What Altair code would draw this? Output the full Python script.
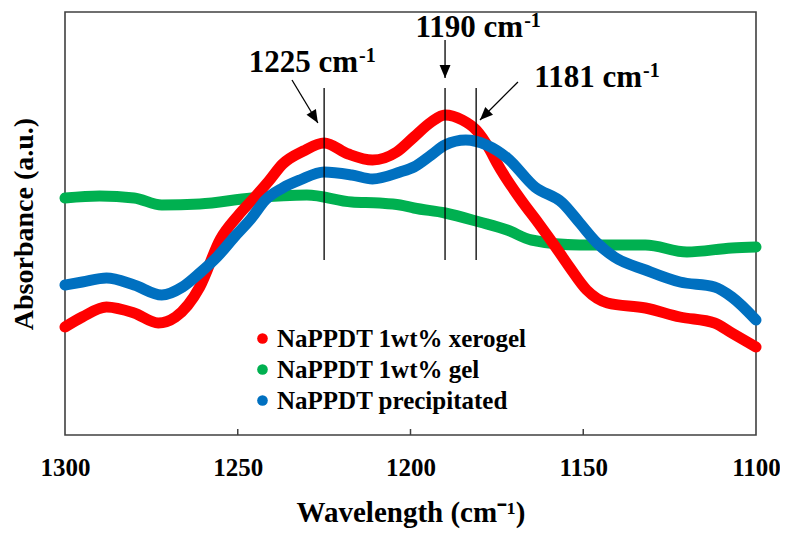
import altair as alt
import pandas as pd

# ---------------- data ----------------
series_names = ["NaPPDT 1wt% xerogel", "NaPPDT 1wt% gel", "NaPPDT precipitated"]
series_colors = ["#FF0000", "#00B050", "#0070C0"]

w_xerogel = [1300, 1295, 1288, 1280, 1273, 1268, 1261, 1255, 1250, 1245, 1241, 1237, 1231,
             1225, 1218, 1211, 1204, 1199, 1194, 1190, 1185, 1181, 1177, 1175, 1168, 1163,
             1158, 1154, 1149, 1143, 1132, 1122, 1112, 1107, 1100]
a_xerogel = [117, 127, 137, 131, 121, 127, 157, 205, 228, 247, 263, 280, 293,
             301, 290, 284, 292, 307, 322, 329, 324, 314, 294, 281, 244, 221,
             197, 177, 154, 141, 136, 127, 121, 111, 97]

w_gel = [1300, 1290, 1280, 1272, 1261, 1246, 1230, 1217, 1209, 1203, 1199, 1190, 1180,
         1172, 1165, 1151, 1132, 1120, 1107, 1100]
a_gel = [246, 248, 246, 239, 240, 246, 249, 242, 241, 239, 236, 231, 222,
         214, 204, 199, 199, 192, 196, 197]

w_prec = [1300, 1295, 1288, 1280, 1272, 1266, 1261, 1256, 1251, 1246, 1242, 1237, 1232,
          1225, 1217, 1211, 1203, 1199, 1194, 1190, 1184, 1178, 1172, 1164, 1156, 1151,
          1146, 1141, 1132, 1122, 1112, 1107, 1100]
a_prec = [159, 162, 166, 159, 149, 157, 171, 187, 207, 226, 244, 256, 264,
          272, 269, 265, 272, 277, 289, 299, 304, 299, 286, 257, 241, 221,
          201, 187, 174, 162, 157, 147, 124]

x_ticks = [1300, 1250, 1200, 1150, 1100]
inner_ticks = [1250, 1200, 1150]

peak_w = [1225, 1190, 1181]
peak_bottom = [184, 184, 184]
peak_top = [356, 356, 356]

label_main = ["1225 cm", "1190 cm", "1181 cm"]
label_sup = ["-1", "-1", "-1"]
label_w = [1215.2, 1167.4, 1133.0]
label_a = [372, 407, 357]

arrow_w1 = [1234.3, 1190.0, 1168.9]
arrow_a1 = [364, 404, 362]
arrow_w2 = [1226.8, 1190.0, 1179.9]
arrow_a2 = [321, 366, 324]
arrow_angle = [149, 180, 225]

# ---------------- build tables ----------------
rows = []
for name, ws, vs in zip(series_names, [w_xerogel, w_gel, w_prec], [a_xerogel, a_gel, a_prec]):
    for w, v in zip(ws, vs):
        rows.append({"series": name, "w": w, "v": v})
df = pd.DataFrame(rows)

peaks = pd.DataFrame({"w": peak_w, "v1": peak_bottom, "v2": peak_top})
labels = pd.DataFrame({"w": label_w, "v": label_a, "main": label_main, "sup": label_sup})
arrows = pd.DataFrame({"w1": arrow_w1, "v1": arrow_a1, "w2": arrow_w2, "v2": arrow_a2,
                       "angle": arrow_angle})
ticks = pd.DataFrame({"w": inner_ticks})

FONT = "Liberation Serif"
xscale = alt.Scale(domain=[1100, 1300], reverse=True, nice=False, zero=False)
yscale = alt.Scale(domain=[9, 432], nice=False, zero=False)

x_enc = alt.X("w:Q", scale=xscale, axis=alt.Axis(
    values=x_ticks, format="d", ticks=False, grid=False, domain=False,
    labelFont=FONT, labelFontSize=25, labelFontWeight="bold", labelColor="black",
    labelPadding=20, labelFlush=False, labelOverlap=False,
    title="Wavelength (cm\u207b\u00b9)", titleFont=FONT, titleFontSize=29,
    titleFontWeight="bold", titleColor="black", titlePadding=18))
y_enc = alt.Y("v:Q", scale=yscale, axis=alt.Axis(
    labels=False, ticks=False, grid=False, domain=False,
    title="Absorbance (a.u.)", titleFont=FONT, titleFontSize=28,
    titleFontWeight="bold", titleColor="black", titlePadding=27))

cscale = alt.Scale(domain=series_names, range=series_colors)
color_line = alt.Color("series:N", scale=cscale, legend=None)
color_leg = alt.Color("series:N", scale=cscale, legend=alt.Legend(
    title=None, orient="none", legendX=185, legendY=314,
    padding=0, symbolType="circle", symbolSize=113, symbolStrokeWidth=0,
    labelFont=FONT, labelFontSize=25, labelFontWeight="bold",
    labelColor="black", labelOffset=2, rowPadding=5, labelLimit=400))

legend_layer = alt.Chart(df).mark_point(filled=True, size=0, opacity=1).encode(
    x=x_enc, y=y_enc, color=color_leg)

layers = []
for name in ["NaPPDT 1wt% gel", "NaPPDT 1wt% xerogel", "NaPPDT precipitated"]:
    layers.append(
        alt.Chart(df[df["series"] == name]).mark_line(
            strokeWidth=11, interpolate="monotone", strokeCap="round", strokeJoin="round"
        ).encode(x=x_enc, y=y_enc, color=color_line)
    )

peak_rules = alt.Chart(peaks).mark_rule(color="black", strokeWidth=1.3).encode(
    x="w:Q", y="v1:Q", y2="v2:Q")

arrow_shafts = alt.Chart(arrows).mark_rule(color="black", strokeWidth=1.3).encode(
    x="w1:Q", y="v1:Q", x2="w2:Q", y2="v2:Q")

arrow_heads = alt.Chart(arrows).mark_point(
    shape="M0,0L-0.42,1L0.42,1Z", filled=True, color="black", opacity=1, size=676
).encode(x="w2:Q", y="v2:Q", angle=alt.Angle("angle:Q", scale=None))

main_text = alt.Chart(labels).mark_text(
    font=FONT, fontSize=31, fontWeight="bold", color="black", align="right",
    baseline="alphabetic").encode(x="w:Q", y="v:Q", text="main:N")

sup_text = alt.Chart(labels).mark_text(
    font=FONT, fontSize=20, fontWeight="bold", color="black", align="left",
    baseline="alphabetic", dx=1, dy=-10).encode(x="w:Q", y="v:Q", text="sup:N")

tick_rules = alt.Chart(ticks).mark_rule(color="#404040", strokeWidth=1.5).encode(
    x="w:Q", y=alt.value(423), y2=alt.value(417))

chart = alt.layer(
    legend_layer, *layers, peak_rules, arrow_shafts, arrow_heads, main_text, sup_text,
    tick_rules
).resolve_legend(color="independent").properties(
    width=691, height=423,
    autosize=alt.AutoSizeParams(type="none"),
    padding={"left": 57, "top": 4, "right": 24, "bottom": 98},
    background="white",
).configure_view(stroke="#404040", strokeWidth=1.6)

chart.save("out.html", embed_options={"renderer": "svg", "actions": False})
